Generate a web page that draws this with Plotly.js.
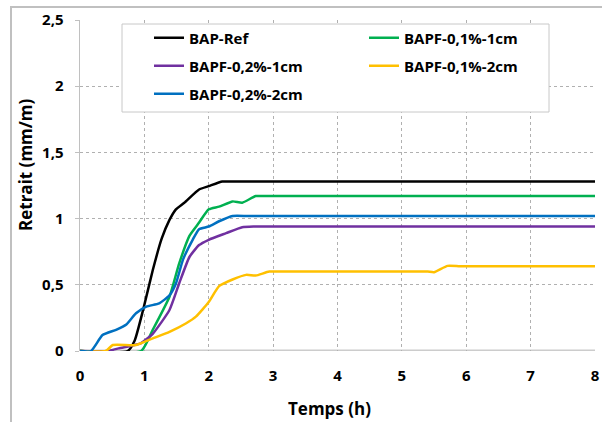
<!DOCTYPE html>
<html><head><meta charset="utf-8">
<script src="https://cdn.plot.ly/plotly-3.0.1.min.js"></script>
<style>html,body{margin:0;padding:0;background:#fff}#chart{width:602px;height:422px}</style>
</head><body><div id="chart"></div>
<script>
// Data
const seriesNames = ["BAP-Ref", "BAPF-0,1%-1cm", "BAPF-0,2%-1cm", "BAPF-0,1%-2cm", "BAPF-0,2%-2cm"];
const legendRow = ["legend", "legend", "legend2", "legend2", "legend3"];
const tRef = [0, 0.74, 0.85, 0.98, 1.13, 1.27, 1.39, 1.49, 1.62, 1.85, 2.0, 2.21, 2.4, 2.7, 8];
const vRef = [0, 0, 0.08, 0.31, 0.61, 0.85, 0.99, 1.07, 1.12, 1.22, 1.245, 1.28, 1.28, 1.28, 1.28];
const t011 = [0, 0.95, 1.13, 1.39, 1.54, 1.70, 1.85, 2.0, 2.16, 2.37, 2.52, 2.73, 2.9, 3.2, 8];
const v011 = [0, 0, 0.16, 0.41, 0.66, 0.87, 0.97, 1.07, 1.09, 1.13, 1.12, 1.17, 1.17, 1.17, 1.17];
const t021 = [0, 0.43, 0.6, 0.8, 0.95, 1.13, 1.39, 1.54, 1.70, 1.85, 2.0, 2.27, 2.52, 2.7, 3.0, 8];
const v021 = [0, 0, 0.02, 0.04, 0.06, 0.13, 0.31, 0.51, 0.71, 0.80, 0.84, 0.89, 0.935, 0.94, 0.94, 0.94];
const t012 = [0, 0.4, 0.51, 0.87, 1.13, 1.39, 1.65, 1.80, 2.0, 2.16, 2.37, 2.58, 2.73, 2.94, 3.2, 5.2, 5.4, 5.5, 5.71, 5.9, 6.2, 8];
const v012 = [0, 0, 0.045, 0.045, 0.095, 0.145, 0.21, 0.26, 0.37, 0.49, 0.54, 0.575, 0.57, 0.60, 0.60, 0.60, 0.60, 0.595, 0.643, 0.64, 0.64, 0.64];
const t022 = [0, 0.17, 0.35, 0.56, 0.72, 0.87, 1.03, 1.23, 1.39, 1.49, 1.6, 1.75, 1.85, 2.0, 2.16, 2.37, 2.6, 2.9, 8];
const v022 = [0, 0, 0.12, 0.16, 0.2, 0.285, 0.335, 0.36, 0.42, 0.51, 0.69, 0.84, 0.92, 0.94, 0.98, 1.02, 1.02, 1.02, 1.02];
const xTickVals = [0, 1, 2, 3, 4, 5, 6, 7, 8];
const xTickText = ["0", "1", "2", "3", "4", "5", "6", "7", "8"];
const yTickVals = [0, 0.5, 1, 1.5, 2, 2.5];
const yTickText = ["0", "0,5", "1", "1,5", "2", "2,5"];

const colors = ["#000000", "#00b050", "#7030a0", "#ffc000", "#0070c0"];
const xs = [tRef, t011, t021, t012, t022];
const ys = [vRef, v011, v021, v012, v022];
const FONT = "Open Sans, Liberation Sans, sans-serif";

const traces = seriesNames.map((n, i) => ({
  x: xs[i], y: ys[i], name: n, type: "scatter", mode: "lines", legend: legendRow[i],
  line: {color: colors[i], width: 2.5, shape: "spline", smoothing: 0.5}
}));

const px2x = p => (p - 80) / 515;
const px2y = p => (351 - p) / 331;

function legendAt(rowY) {
  return {
    orientation: "h", x: px2x(149), y: px2y(rowY), xanchor: "left", yanchor: "middle",
    entrywidth: 170, entrywidthmode: "pixels",
    borderwidth: 0, bgcolor: "rgba(0,0,0,0)",
    font: {family: FONT, size: 15, weight: "bold", color: "#000"},
    itemwidth: 30, traceorder: "normal"
  };
}

const layout = {
  width: 602, height: 422,
  margin: {l: 80, r: 7, t: 20, b: 71},
  paper_bgcolor: "#fff", plot_bgcolor: "#fff",
  font: {family: FONT, color: "#000"},
  showlegend: true,
  legend: legendAt(38),
  legend2: legendAt(66),
  legend3: legendAt(94),
  xaxis: {
    range: [0, 8], tickvals: xTickVals, ticktext: xTickText,
    showgrid: true, gridcolor: "#b0b0b0", griddash: "dot", gridwidth: 1,
    zeroline: false, showline: false, ticks: "", ticklabelstandoff: 14,
    tickfont: {family: FONT, size: 15, weight: "bold"}, fixedrange: true
  },
  yaxis: {
    range: [0, 2.5], tickvals: yTickVals, ticktext: yTickText,
    showgrid: true, gridcolor: "#b0b0b0", griddash: "dot", gridwidth: 1,
    zeroline: false, showline: true, linecolor: "#c0c0c0", linewidth: 1.5,
    ticks: "outside", ticklen: 4, tickcolor: "#c0c0c0",
    ticklabelstandoff: 8,
    tickfont: {family: FONT, size: 15, weight: "bold"}, fixedrange: true
  },
  shapes: [
    {type: "line", xref: "paper", yref: "y", x0: 0, x1: 1, y0: 0, y1: 0,
     line: {color: "#cccccc", width: 3}, layer: "below"},
    {type: "rect", xref: "paper", yref: "paper", x0: -0.134, x1: 1.2, y0: -0.4, y1: 1.039,
     line: {color: "#c0c0c0", width: 2}, fillcolor: "rgba(0,0,0,0)", layer: "below"},
    {type: "rect", xref: "paper", yref: "paper", x0: px2x(122), x1: px2x(549), y0: px2y(112), y1: px2y(24),
     line: {color: "#c8c8c8", width: 1}, fillcolor: "#ffffff", layer: "above"}
  ],
  annotations: [
    {text: "Temps (h)", xref: "paper", yref: "paper", x: px2x(329), y: px2y(408),
     showarrow: false, xanchor: "center", yanchor: "middle",
     font: {family: FONT, size: 17, weight: "bold"}},
    {text: "Retrait (mm/m)", xref: "paper", yref: "paper", x: px2x(25), y: px2y(165),
     showarrow: false, xanchor: "center", yanchor: "middle", textangle: -90,
     font: {family: FONT, size: 17, weight: "bold"}}
  ]
};

Plotly.newPlot("chart", traces, layout, {displayModeBar: false, staticPlot: true});
</script></body></html>
